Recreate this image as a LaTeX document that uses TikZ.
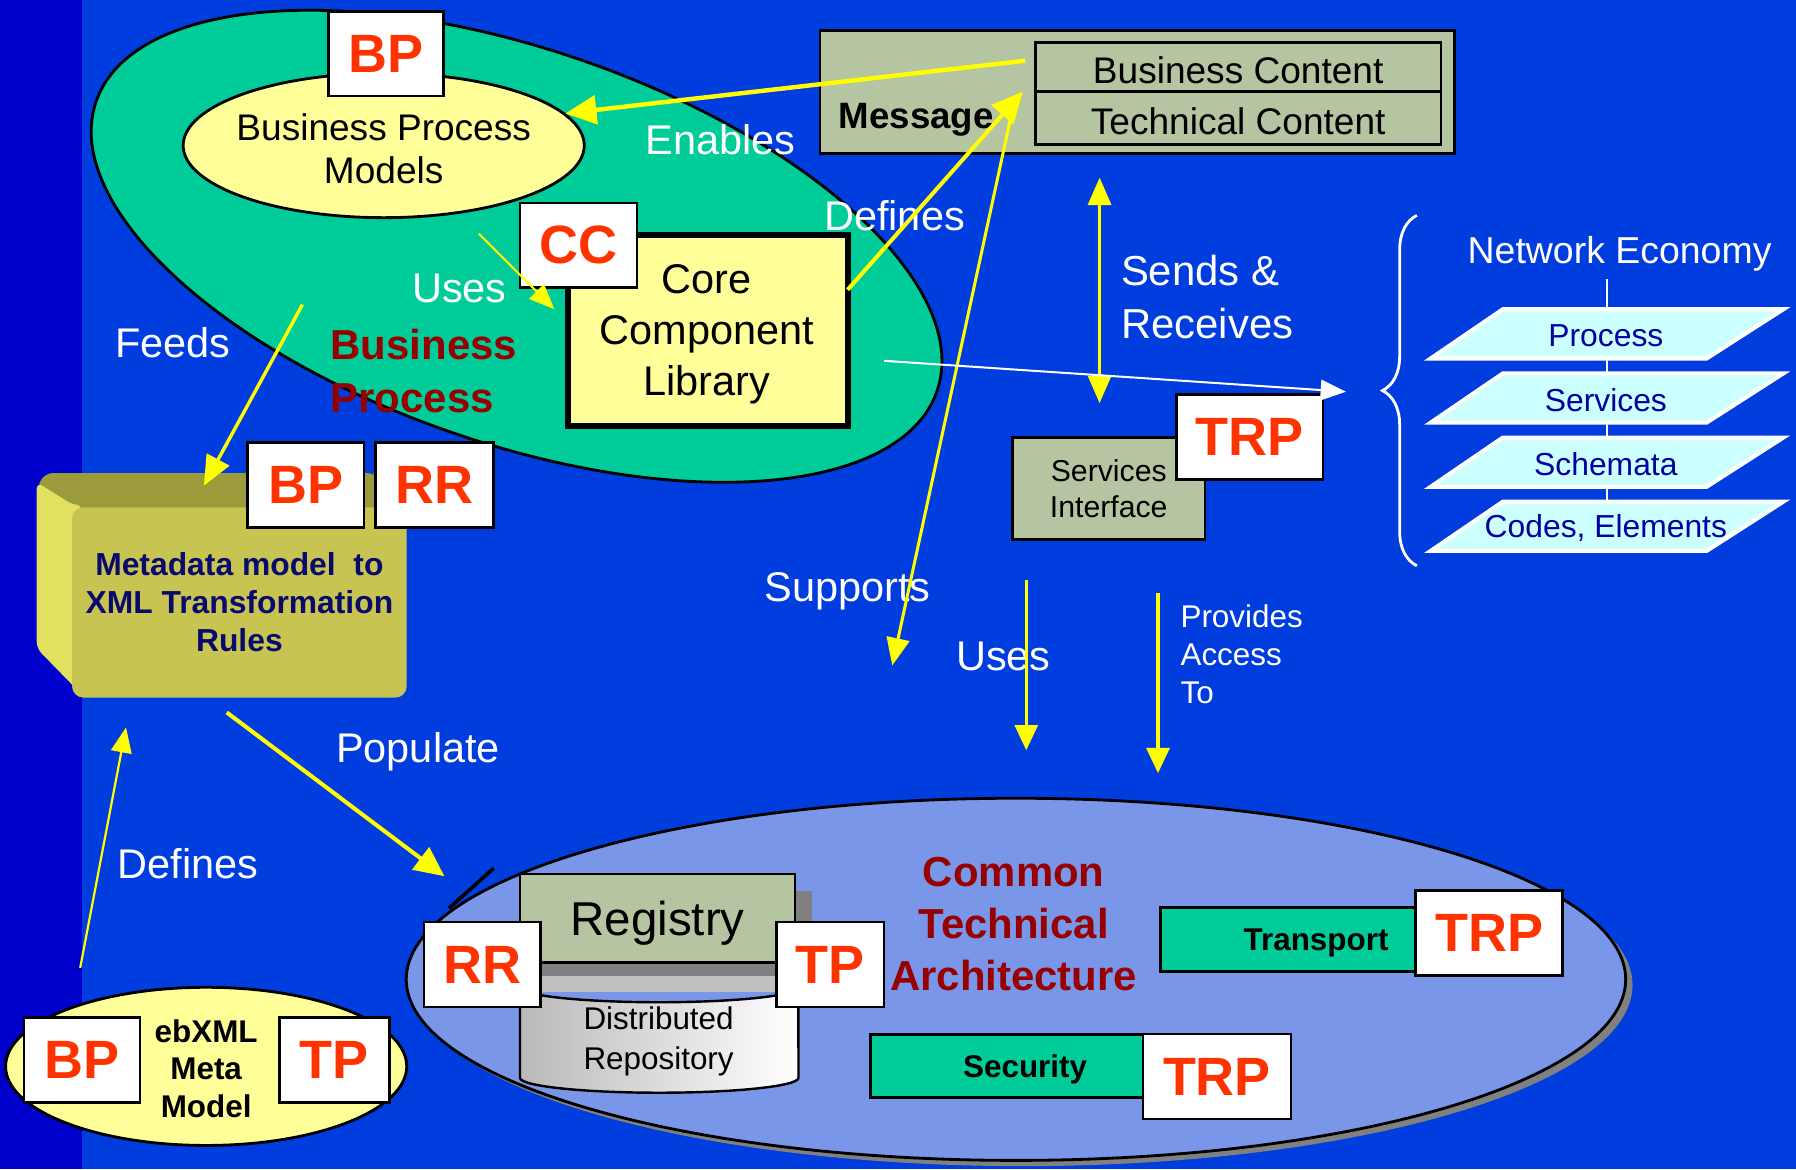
\documentclass[tikz,border=0pt]{standalone}
\usepackage{fontspec}
\setmainfont{Liberation Sans}
\usepackage{tikz}
\usetikzlibrary{shapes.geometric}
\usetikzlibrary{arrows.meta}
\usetikzlibrary{decorations.pathreplacing}
\definecolor{bgblue}{RGB}{0,61,222}
\definecolor{stripe}{RGB}{0,0,204}
\definecolor{sea}{RGB}{0,204,153}
\definecolor{paleyel}{RGB}{255,255,153}
\definecolor{sage}{RGB}{181,196,161}
\definecolor{tagred}{RGB}{255,51,0}
\definecolor{darkred}{RGB}{150,0,0}
\definecolor{lilac}{RGB}{122,150,232}
\definecolor{inkblue}{RGB}{10,10,110}
\definecolor{olivetop}{RGB}{155,155,60}
\definecolor{oliveleft}{RGB}{225,225,95}
\definecolor{oliveface}{RGB}{200,196,82}
\definecolor{planecyan}{RGB}{204,255,255}
\definecolor{planeink}{RGB}{0,0,160}
\definecolor{flowyellow}{RGB}{255,255,0}
\definecolor{shadowgray}{RGB}{128,128,128}
\definecolor{cylgray}{RGB}{192,192,192}
\tikzset{
  tagbox/.style={draw=black, line width=0.6pt, fill=white, minimum height=0.74cm, inner sep=0pt, text=tagred, font=\fontsize{13.4}{15}\selectfont\bfseries},
  lbl/.style={inner sep=0pt, text=white, font=\fontsize{10.3}{13}\selectfont},
  plaintext/.style={inner sep=0pt, align=center},
  sagebox/.style={draw=black, line width=0.7pt, fill=sage, inner sep=0pt},
  bandbox/.style={draw=black, line width=0.7pt, fill=sea, inner sep=0pt, minimum height=0.56cm, text depth=0pt, font=\fontsize{7.8}{9}\selectfont\bfseries},
  planefill/.style={fill=planecyan, draw=white, line width=1pt},
  planetext/.style={inner sep=0pt, text=planeink, font=\fontsize{7.9}{9}\selectfont},
  yarrow/.style={draw=flowyellow, line width=1.1pt, -{Triangle[length=0.27cm,width=0.25cm]}},
  yfine/.style={draw=flowyellow, line width=0.5pt, -{Triangle[length=0.22cm,width=0.18cm]}},
}
\newcommand{\redtag}[5]{ \node[tagbox,minimum width=#4cm] (#1) at ( #2 , #3 ) {#5};}
\newcommand{\netplane}[3]{ \filldraw[planefill] ( 1312 , #2 ) -- ( 1557 , #2 ) -- ( 1490 , #2+43 ) -- ( 1249 , #2+43 ) -- cycle; \node[planetext] (#1) at ( 1402 , #2+23 ) {#3};}

\begin{document}
\begin{tikzpicture}[x=0.01cm,y=-0.01cm]
\useasboundingbox (0,0) rectangle (1568,1021);
% background
\fill[bgblue] (0,0) rectangle (1568,1021);
\fill[stripe] (0,0) rectangle (72,1021);
% business process area
\draw[fill=sea, line width=0.7pt, rotate around={-19:(451,215)}] (451,215) ellipse [x radius=3.88cm, y radius=1.72cm];
\node[ellipse, draw, line width=0.7pt, fill=paleyel, minimum width=3.5cm, minimum height=1.26cm, inner sep=0pt] (bpm) at (335,127) {};
\node[plaintext, font=\fontsize{9.2}{10.8}\selectfont] (bpmtext) at (335,130) {Business Process\\Models};
\node[draw, line width=1.4pt, fill=paleyel, minimum width=2.44cm, minimum height=1.67cm, inner sep=0pt] (ccl) at (618,288.5) {};
\node[plaintext, font=\fontsize{10.3}{12.7}\selectfont] (ccltext) at (617,292) {Core\\Component\\Library};
\node[anchor=west, inner sep=0pt, align=left, text=darkred, font=\fontsize{10.4}{13.1}\selectfont\bfseries] (bplbl) at (288,324) {Business\\Process};
\redtag{tagBPa}{337}{47}{1.00}{BP}
\redtag{tagCC}{505}{214}{1.02}{CC}
% message
\node[sagebox, minimum width=5.54cm, minimum height=1.07cm] (msg) at (993,80.5) {};
\node[inner sep=0pt, font=\fontsize{9.1}{11}\selectfont\bfseries] (msglbl) at (800,105) {Message};
\node[sagebox, minimum width=3.54cm, minimum height=0.43cm] (bizc) at (1081,58.5) {};
\node[plaintext, font=\fontsize{9.2}{11}\selectfont] (bizctext) at (1081,61) {Business Content};
\node[sagebox, minimum width=3.54cm, minimum height=0.46cm] (techc) at (1081,103) {};
\node[plaintext, font=\fontsize{9.2}{11}\selectfont] (techctext) at (1081,106) {Technical Content};
% services interface
\node[sagebox, minimum width=1.68cm, minimum height=0.89cm, align=center, font=\fontsize{7.5}{8.9}\selectfont] (si) at (968,426.5) {Services\\Interface};
\redtag{tagTRPa}{1091}{381.5}{1.28}{TRP}
% network economy
\node[lbl, font=\fontsize{9.3}{11}\selectfont] (neteco) at (1414,222) {Network Economy};
\draw[white, line width=0.6pt] (1403,244) -- (1403,470);
\netplane{pProcess}{270}{Process}
\netplane{pServices}{326}{Services}
\netplane{pSchemata}{382}{Schemata}
\netplane{pCodes}{438}{Codes, Elements}
\draw[white, line width=0.7pt, decorate, decoration={brace, amplitude=0.3cm}] (1237,494) -- (1237,188);
% metadata box with bevel
\fill[olivetop, rounded corners=0.06cm] (32,425) -- (40,413) -- (326,413) -- (357,441) -- (357,450) -- (64,450) -- cycle;
\fill[oliveleft, rounded corners=0.06cm] (32,421) -- (64,441) -- (72,441) -- (72,607) -- (32,566) -- cycle;
\node[fill=oliveface, rounded corners=0.1cm, minimum width=2.92cm, minimum height=1.66cm, inner sep=0pt, align=center, text=inkblue, font=\fontsize{7.9}{9.4}\selectfont\bfseries] (meta) at (209,526) {Metadata model\ \ to\\XML Transformation\\Rules};
\redtag{tagBPb}{267}{423.5}{1.02}{BP}
\redtag{tagRRa}{379.5}{423.5}{1.03}{RR}
% ebxml meta model
\node[ellipse, draw, line width=0.7pt, fill=paleyel, minimum width=3.5cm, minimum height=1.38cm, inner sep=0pt] (ebx) at (180,931) {};
\node[plaintext, font=\fontsize{7.8}{9.4}\selectfont\bfseries] (ebxtext) at (180,933) {ebXML\\Meta\\Model};
\redtag{tagBPc}{71.5}{925.5}{1.01}{BP}
\redtag{tagTPa}{292}{925.5}{0.96}{TP}
% common technical architecture
\fill[shadowgray] (893,860) ellipse [x radius=5.32cm, y radius=1.58cm];
\node[ellipse, draw, line width=0.7pt, fill=lilac, minimum width=10.64cm, minimum height=3.16cm, inner sep=0pt] (ctaell) at (887,855) {};
\draw[line width=0.9pt] (392,793) -- (431,758);
\node[plaintext, text=darkred, font=\fontsize{10.4}{12.9}\selectfont\bfseries] (cta) at (885,807) {Common\\Technical\\Architecture};
% registry stack
\fill[shadowgray] (462,778) rectangle (709,843);
\fill[cylgray] (454,840) rectangle (697,866);
\fill[shadowgray] (454,840) rectangle (697,852);
\draw[line width=0.6pt, left color=gray!55, right color=white] (454,862) -- (454,941) arc[start angle=180, end angle=360, x radius=1.215cm, y radius=0.13cm] -- (697,862) arc[start angle=0, end angle=-180, x radius=1.215cm, y radius=0.13cm] -- cycle;
\node[plaintext, font=\fontsize{7.8}{10}\selectfont] (drep) at (575,909) {Distributed\\Repository};
\node[sagebox, minimum width=2.4cm, minimum height=0.77cm] (reg) at (574,801.5) {};
\node[plaintext, font=\fontsize{11.8}{13}\selectfont] (regtext) at (574,806) {Registry};
\redtag{tagRRb}{421}{842}{1.02}{RR}
\redtag{tagTPb}{725}{842}{0.94}{TP}
\node[bandbox, minimum width=2.72cm] (transp) at (1149,820) {Transport};
\redtag{tagTRPb}{1300}{814.5}{1.28}{TRP}
\node[bandbox, minimum width=2.70cm, minimum height=0.55cm] (secu) at (895,930.5) {Security};
\redtag{tagTRPc}{1062.5}{940}{1.29}{TRP}
% white labels
\node[lbl] (enables) at (629,122) {Enables};
\node[lbl] (definesa) at (781,188) {Defines};
\node[lbl] (usesa) at (401,252) {Uses};
\node[lbl] (feeds) at (151,299) {Feeds};
\node[lbl, anchor=west, align=left, font=\fontsize{10.4}{13.1}\selectfont] (sends) at (978,259) {Sends \&\\Receives};
\node[lbl] (supports) at (740,516) {Supports};
\node[lbl] (usesb) at (876,573) {Uses};
\node[lbl, anchor=west, align=left, font=\fontsize{7.8}{9.4}\selectfont] (provides) at (1030,571) {Provides\\Access\\To};
\node[lbl] (populate) at (365,656) {Populate};
\node[lbl] (definesb) at (164,754) {Defines};
% flows
\coordinate (enS) at (895,53);
\coordinate (defS) at (740,253);
\coordinate (defE) at (893,80);
\coordinate (supS) at (886,86);
\coordinate (supE) at (779,581);
\coordinate (useS) at (418,204);
\coordinate (useE) at (484,270);
\coordinate (feedS) at (264,266);
\coordinate (feedE) at (178,424);
\coordinate (srS) at (960,155);
\coordinate (srE) at (960,352);
\coordinate (netS) at (772,315);
\coordinate (netE) at (1175,342);
\coordinate (usebS) at (896,506);
\coordinate (usebE) at (896,655);
\coordinate (provS) at (1011,518);
\coordinate (provE) at (1011,675);
\coordinate (popS) at (198,622);
\coordinate (popE) at (388,765);
\coordinate (defbS) at (70,845);
\coordinate (defbE) at (110,635);
\draw[yarrow] (enS) -- (bpm.10);
\draw[yarrow, line width=1pt] (defS) -- (defE);
\draw[yarrow, line width=0.75pt, -{Triangle[length=0.24cm,width=0.2cm]}] (supS) -- (supE);
\draw[yfine] (useS) -- (useE);
\draw[yarrow, line width=0.85pt, -{Triangle[length=0.26cm,width=0.22cm]}] (feedS) -- (feedE);
\draw[yarrow, line width=0.9pt, {Triangle[length=0.24cm,width=0.2cm]}-{Triangle[length=0.24cm,width=0.2cm]}] (srS) -- (srE);
\draw[white, line width=0.5pt, -{Triangle[length=0.22cm,width=0.18cm]}] (netS) -- (netE);
\draw[yarrow, line width=0.8pt, -{Triangle[length=0.22cm,width=0.2cm]}] (usebS) -- (usebE);
\draw[yarrow, line width=0.8pt, -{Triangle[length=0.22cm,width=0.2cm]}] (provS) -- (provE);
\draw[yarrow, line width=1pt, -{Triangle[length=0.26cm,width=0.24cm]}] (popS) -- (popE);
\draw[yfine, line width=0.55pt] (defbS) -- (defbE);
\end{tikzpicture}
\end{document}
